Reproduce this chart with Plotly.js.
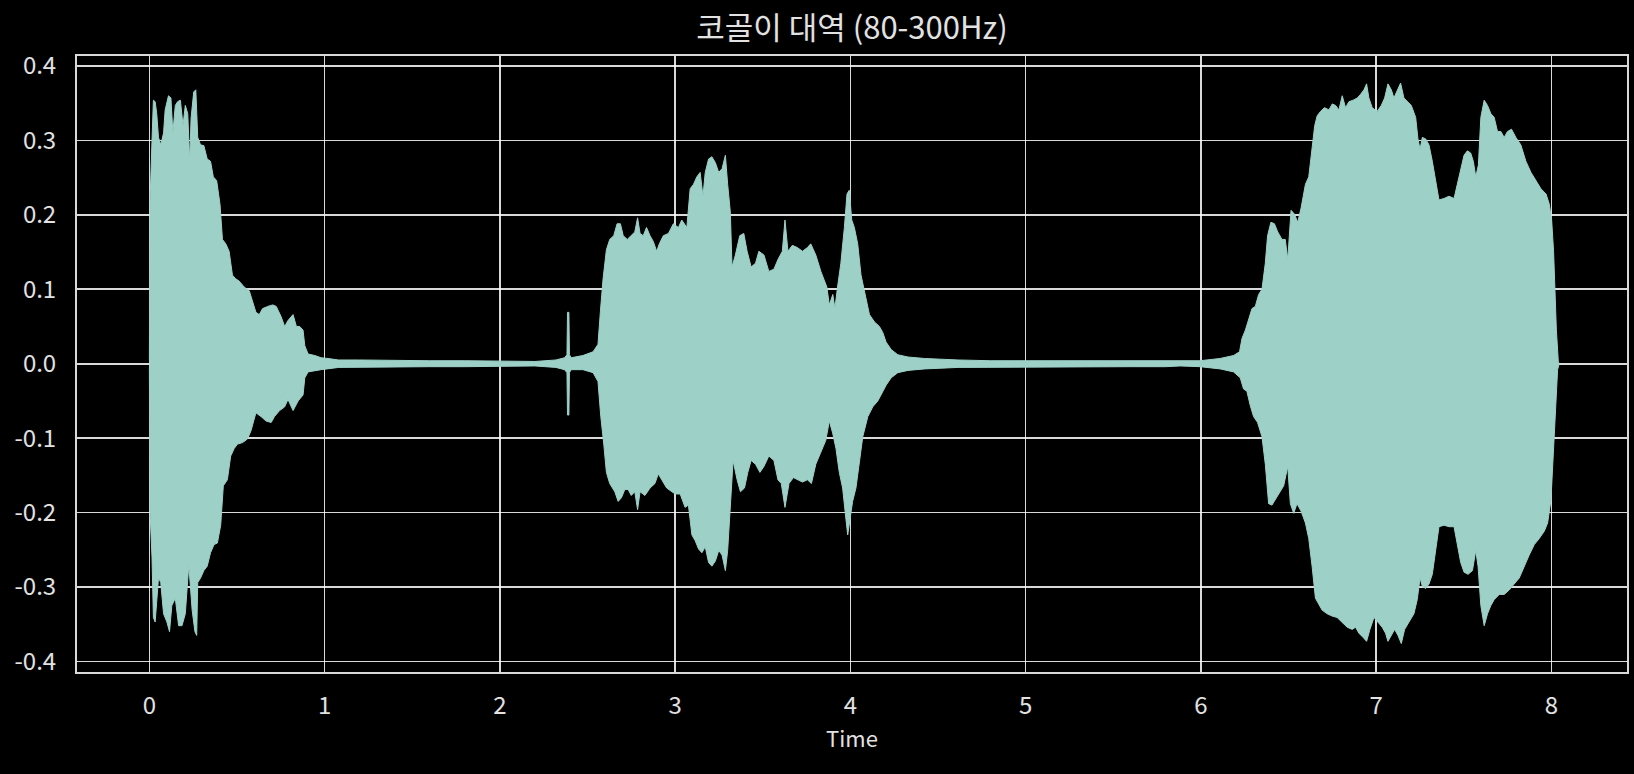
<!DOCTYPE html>
<html>
<head>
<meta charset="utf-8">
<script src="https://cdn.plot.ly/plotly-3.0.1.min.js"></script>
<style>
  html, body { margin: 0; padding: 0; background: #000; }
  #chart { width: 1634px; height: 774px; }
</style>
</head>
<body>
<div id="chart"></div>
<script>
// ---- data ----
const chartTitle = "코골이 대역 (80-300Hz)";
const xTitle = "Time";

const xTickVals = [0, 1, 2, 3, 4, 5, 6, 7, 8];
const xTickText = ["0", "1", "2", "3", "4", "5", "6", "7", "8"];
const yTickVals = [-0.4, -0.3, -0.2, -0.1, 0.0, 0.1, 0.2, 0.3, 0.4];
const yTickText = ["-0.4", "-0.3", "-0.2", "-0.1", "0.0", "0.1", "0.2", "0.3", "0.4"];

// upper envelope of the waveform (seconds, amplitude)
const upperTime = [
  0, 0.004, 0.015, 0.023, 0.033, 0.042, 0.052, 0.065, 0.081, 0.09, 0.109, 0.123, 0.134, 0.148, 0.161, 0.177, 0.192, 0.205, 0.219, 0.23,
  0.238, 0.253, 0.265, 0.276, 0.292, 0.311, 0.33, 0.349, 0.365, 0.384, 0.403, 0.417, 0.436, 0.455, 0.474, 0.493, 0.512, 0.541, 0.57, 0.589,
  0.608, 0.627, 0.646, 0.676, 0.704, 0.724, 0.752, 0.772, 0.791, 0.82, 0.839, 0.858, 0.877, 0.887, 0.906, 0.944, 0.98, 1.02, 1.08,
  1.2, 1.4, 1.6, 1.8, 2.0, 2.2, 2.32,
  2.369, 2.383, 2.386, 2.394, 2.397, 2.407, 2.474, 2.532, 2.56, 2.574, 2.589, 2.608, 2.627, 2.65, 2.669, 2.688, 2.704, 2.727, 2.75, 2.77,
  2.786, 2.8, 2.818, 2.837, 2.857, 2.876, 2.895, 2.91, 2.933, 2.962, 2.99, 3.019, 3.038, 3.067, 3.086, 3.105, 3.124, 3.143, 3.159, 3.172,
  3.191, 3.21, 3.23, 3.249, 3.268, 3.287, 3.3, 3.315, 3.325, 3.344, 3.369, 3.392, 3.411, 3.434, 3.459, 3.478, 3.507, 3.535, 3.564, 3.587,
  3.612, 3.627, 3.644, 3.669, 3.698, 3.727, 3.755, 3.774, 3.803, 3.832, 3.866, 3.88, 3.9, 3.912, 3.927, 3.946, 3.966, 3.981, 3.994, 4.008,
  4.023, 4.042, 4.061, 4.08, 4.109, 4.138, 4.166, 4.185, 4.204, 4.233, 4.271, 4.329, 4.424, 4.616,
  4.8, 5.0, 5.2, 5.4, 5.6, 5.8,
  5.882, 5.996, 6.11, 6.187, 6.221, 6.235, 6.254, 6.273, 6.292, 6.311, 6.33, 6.349, 6.368, 6.381, 6.4, 6.42, 6.439, 6.463, 6.482, 6.496,
  6.515, 6.534, 6.553, 6.572, 6.597, 6.616, 6.635, 6.65, 6.664, 6.683, 6.706, 6.731, 6.75, 6.769, 6.788, 6.807, 6.826, 6.845, 6.869, 6.893,
  6.912, 6.931, 6.946, 6.959, 6.978, 7.006, 7.03, 7.049, 7.068, 7.087, 7.102, 7.121, 7.14, 7.159, 7.178, 7.201, 7.226, 7.239, 7.251, 7.264,
  7.283, 7.302, 7.321, 7.34, 7.359, 7.388, 7.416, 7.445, 7.464, 7.483, 7.502, 7.521, 7.54, 7.555, 7.569, 7.584, 7.598, 7.617, 7.636, 7.655,
  7.674, 7.693, 7.712, 7.731, 7.75, 7.773, 7.798, 7.826, 7.855, 7.884, 7.912, 7.941, 7.97, 7.989, 8.002, 8.013, 8.021, 8.029, 8.04, 8.045
];
const upperAmp = [
  0.005, 0.22, 0.30, 0.354, 0.352, 0.336, 0.304, 0.294, 0.31, 0.341, 0.36, 0.357, 0.31, 0.347, 0.352, 0.354, 0.32, 0.347, 0.336, 0.272,
  0.33, 0.365, 0.368, 0.304, 0.294, 0.293, 0.275, 0.272, 0.251, 0.246, 0.214, 0.167, 0.161, 0.151, 0.119, 0.114, 0.111, 0.103, 0.098, 0.085,
  0.069, 0.066, 0.074, 0.077, 0.079, 0.077, 0.063, 0.05, 0.058, 0.066, 0.05, 0.05, 0.045, 0.024, 0.013, 0.011, 0.008, 0.007, 0.005,
  0.005, 0.004, 0.004, 0.004, 0.004, 0.003, 0.005,
  0.008, 0.012, 0.069, 0.069, 0.012, 0.008, 0.011, 0.016, 0.026, 0.071, 0.114, 0.153, 0.167, 0.172, 0.188, 0.188, 0.172, 0.167, 0.172, 0.177,
  0.196, 0.175, 0.172, 0.183, 0.172, 0.164, 0.151, 0.161, 0.172, 0.175, 0.188, 0.183, 0.193, 0.183, 0.235, 0.241, 0.251, 0.257, 0.225, 0.257,
  0.275, 0.278, 0.27, 0.257, 0.262, 0.28, 0.241, 0.204, 0.13, 0.146, 0.172, 0.175, 0.151, 0.13, 0.135, 0.151, 0.146, 0.124, 0.127, 0.14,
  0.151, 0.193, 0.151, 0.159, 0.156, 0.151, 0.156, 0.161, 0.146, 0.124, 0.103, 0.079, 0.093, 0.074, 0.103, 0.135, 0.183, 0.228, 0.233, 0.193,
  0.183, 0.161, 0.119, 0.098, 0.066, 0.056, 0.05, 0.042, 0.029, 0.019, 0.012, 0.009, 0.007, 0.005,
  0.004, 0.004, 0.004, 0.004, 0.004, 0.004,
  0.003, 0.004, 0.007, 0.011, 0.016, 0.034, 0.045, 0.061, 0.074, 0.077, 0.093, 0.1, 0.135, 0.172, 0.19, 0.188, 0.177, 0.167, 0.167, 0.14,
  0.206, 0.201, 0.19, 0.209, 0.241, 0.251, 0.288, 0.32, 0.333, 0.339, 0.344, 0.341, 0.349, 0.347, 0.341, 0.36, 0.344, 0.352, 0.354, 0.357,
  0.362, 0.368, 0.376, 0.357, 0.344, 0.339, 0.347, 0.357, 0.376, 0.368, 0.357, 0.368, 0.377, 0.357, 0.352, 0.347, 0.331, 0.302, 0.288, 0.304,
  0.302, 0.294, 0.272, 0.246, 0.22, 0.222, 0.225, 0.222, 0.241, 0.262, 0.28, 0.286, 0.283, 0.272, 0.251, 0.267, 0.331, 0.354, 0.347, 0.336,
  0.331, 0.312, 0.312, 0.304, 0.312, 0.315, 0.304, 0.294, 0.272, 0.257, 0.246, 0.235, 0.228, 0.214, 0.193, 0.151, 0.098, 0.045, 0.003, 0
];

// lower envelope of the waveform (seconds, amplitude)
const lowerTime = [
  0, 0.004, 0.015, 0.023, 0.033, 0.052, 0.065, 0.081, 0.1, 0.115, 0.128, 0.148, 0.167, 0.186, 0.205, 0.225, 0.244, 0.26, 0.27, 0.276,
  0.292, 0.311, 0.33, 0.349, 0.369, 0.388, 0.407, 0.422, 0.445, 0.464, 0.484, 0.503, 0.532, 0.56, 0.58, 0.608, 0.637, 0.666, 0.695, 0.714,
  0.743, 0.772, 0.791, 0.82, 0.849, 0.877, 0.887, 0.906, 0.98, 1.08,
  1.2, 1.4, 1.6, 1.8, 2.0, 2.2, 2.32,
  2.369, 2.383, 2.386, 2.394, 2.397, 2.407, 2.474, 2.532, 2.56, 2.576, 2.593, 2.608, 2.627, 2.656, 2.675, 2.694, 2.713, 2.732, 2.75, 2.77,
  2.786, 2.8, 2.828, 2.857, 2.885, 2.904, 2.924, 2.952, 2.981, 3.0, 3.029, 3.057, 3.076, 3.096, 3.115, 3.134, 3.153, 3.172, 3.191, 3.21,
  3.23, 3.249, 3.268, 3.287, 3.3, 3.315, 3.331, 3.354, 3.373, 3.396, 3.415, 3.434, 3.459, 3.484, 3.507, 3.535, 3.564, 3.587, 3.606, 3.627,
  3.65, 3.675, 3.698, 3.727, 3.755, 3.778, 3.803, 3.832, 3.86, 3.88, 3.899, 3.918, 3.937, 3.956, 3.975, 3.985, 4.0, 4.013, 4.032, 4.052,
  4.071, 4.1, 4.128, 4.157, 4.176, 4.204, 4.233, 4.271, 4.329, 4.424, 4.616,
  4.8, 5.0, 5.2, 5.4, 5.6, 5.8,
  5.882, 5.996, 6.111, 6.187, 6.225, 6.244, 6.263, 6.282, 6.301, 6.324, 6.349, 6.368, 6.387, 6.406, 6.425, 6.444, 6.473, 6.496, 6.511, 6.53,
  6.549, 6.572, 6.597, 6.616, 6.635, 6.654, 6.673, 6.692, 6.721, 6.749, 6.778, 6.806, 6.835, 6.864, 6.883, 6.902, 6.927, 6.946, 6.965, 6.988,
  7.01, 7.035, 7.054, 7.068, 7.087, 7.106, 7.125, 7.144, 7.163, 7.188, 7.216, 7.235, 7.251, 7.264, 7.283, 7.302, 7.321, 7.34, 7.359, 7.388,
  7.417, 7.445, 7.464, 7.483, 7.502, 7.525, 7.55, 7.569, 7.582, 7.598, 7.617, 7.636, 7.655, 7.674, 7.703, 7.731, 7.76, 7.788, 7.817, 7.846,
  7.874, 7.903, 7.931, 7.96, 7.979, 7.998, 8.013, 8.025, 8.036, 8.045
];
const lowerAmp = [
  -0.005, -0.2, -0.26, -0.341, -0.347, -0.288, -0.294, -0.336, -0.347, -0.36, -0.325, -0.315, -0.352, -0.352, -0.336, -0.27, -0.331, -0.36, -0.365, -0.294,
  -0.288, -0.278, -0.272, -0.254, -0.243, -0.241, -0.217, -0.164, -0.156, -0.124, -0.114, -0.108, -0.106, -0.101, -0.09, -0.066, -0.071, -0.077, -0.079, -0.071,
  -0.063, -0.058, -0.048, -0.063, -0.05, -0.042, -0.019, -0.011, -0.008, -0.005,
  -0.004, -0.004, -0.004, -0.004, -0.004, -0.003, -0.005,
  -0.008, -0.012, -0.069, -0.069, -0.012, -0.008, -0.008, -0.012, -0.024, -0.071, -0.108, -0.146, -0.161, -0.172, -0.185, -0.18, -0.169, -0.169, -0.177, -0.172,
  -0.196, -0.172, -0.177, -0.167, -0.161, -0.148, -0.156, -0.167, -0.172, -0.175, -0.175, -0.193, -0.19, -0.23, -0.238, -0.249, -0.254, -0.246, -0.267, -0.272,
  -0.265, -0.251, -0.257, -0.278, -0.251, -0.193, -0.13, -0.156, -0.172, -0.167, -0.146, -0.13, -0.135, -0.146, -0.138, -0.124, -0.13, -0.156, -0.161, -0.193,
  -0.161, -0.153, -0.156, -0.159, -0.156, -0.161, -0.135, -0.119, -0.103, -0.077, -0.093, -0.114, -0.146, -0.167, -0.209, -0.23, -0.209, -0.185, -0.167, -0.135,
  -0.098, -0.071, -0.058, -0.05, -0.042, -0.029, -0.019, -0.012, -0.009, -0.007, -0.005,
  -0.004, -0.004, -0.004, -0.004, -0.004, -0.004,
  -0.003, -0.004, -0.007, -0.011, -0.019, -0.034, -0.037, -0.056, -0.071, -0.079, -0.098, -0.135, -0.188, -0.19, -0.183, -0.175, -0.164, -0.138, -0.188, -0.201,
  -0.188, -0.198, -0.214, -0.235, -0.272, -0.315, -0.323, -0.331, -0.336, -0.339, -0.341, -0.347, -0.354, -0.357, -0.354, -0.362, -0.368, -0.373, -0.357, -0.341,
  -0.347, -0.354, -0.362, -0.373, -0.365, -0.357, -0.365, -0.376, -0.357, -0.347, -0.336, -0.317, -0.288, -0.299, -0.302, -0.296, -0.283, -0.251, -0.219, -0.217,
  -0.219, -0.219, -0.241, -0.267, -0.28, -0.283, -0.278, -0.251, -0.272, -0.325, -0.352, -0.336, -0.325, -0.317, -0.31, -0.31, -0.304, -0.296, -0.288, -0.272,
  -0.257, -0.243, -0.235, -0.225, -0.214, -0.183, -0.114, -0.061, -0.008, 0
];

// ---- build closed waveform polygon from the envelopes ----
const polyX = upperTime.concat(lowerTime.slice().reverse());
const polyY = upperAmp.concat(lowerAmp.slice().reverse());

const waveColor = "#9dd1c8";
const fg = "#e2e2e2";
const fontFam = "'Noto Sans CJK KR', 'Noto Sans', sans-serif";

const traces = [{
  type: "scatter",
  mode: "lines",
  x: polyX,
  y: polyY,
  fill: "toself",
  fillcolor: waveColor,
  line: { color: waveColor, width: 1 },
  hoverinfo: "skip",
  showlegend: false
}];

const layout = {
  width: 1634,
  height: 774,
  paper_bgcolor: "#000000",
  plot_bgcolor: "#000000",
  margin: { l: 77, r: 7, t: 56, b: 102, pad: 0 },
  font: { family: fontFam, color: fg, size: 24 },
  title: {
    text: chartTitle,
    font: { family: fontFam, size: 31, color: fg },
    x: 0.5, xref: "paper", xanchor: "center",
    y: 1 - 28 / 774, yref: "container", yanchor: "middle"
  },
  xaxis: {
    range: [-0.413, 8.432],
    tickmode: "array",
    tickvals: xTickVals,
    ticktext: xTickText,
    ticks: "",
    ticklabelstandoff: 11,
    showgrid: true,
    gridcolor: "rgba(255,255,255,0.85)",
    gridwidth: 1.6,
    zeroline: false,
    showline: true,
    linecolor: "rgba(255,255,255,0.85)",
    linewidth: 2,
    mirror: true,
    tickfont: { family: fontFam, size: 24, color: fg },
    title: { text: xTitle, font: { family: fontFam, size: 22, color: fg }, standoff: 12 }
  },
  yaxis: {
    range: [-0.4142, 0.4134],
    tickmode: "array",
    tickvals: yTickVals,
    ticktext: yTickText,
    ticks: "",
    ticklabelstandoff: 14,
    showgrid: true,
    gridcolor: "rgba(255,255,255,0.85)",
    gridwidth: 1.6,
    zeroline: false,
    showline: true,
    linecolor: "rgba(255,255,255,0.85)",
    linewidth: 2,
    mirror: true,
    tickfont: { family: fontFam, size: 24, color: fg }
  }
};

Plotly.newPlot("chart", traces, layout, { displayModeBar: false, staticPlot: true });
</script>
</body>
</html>
